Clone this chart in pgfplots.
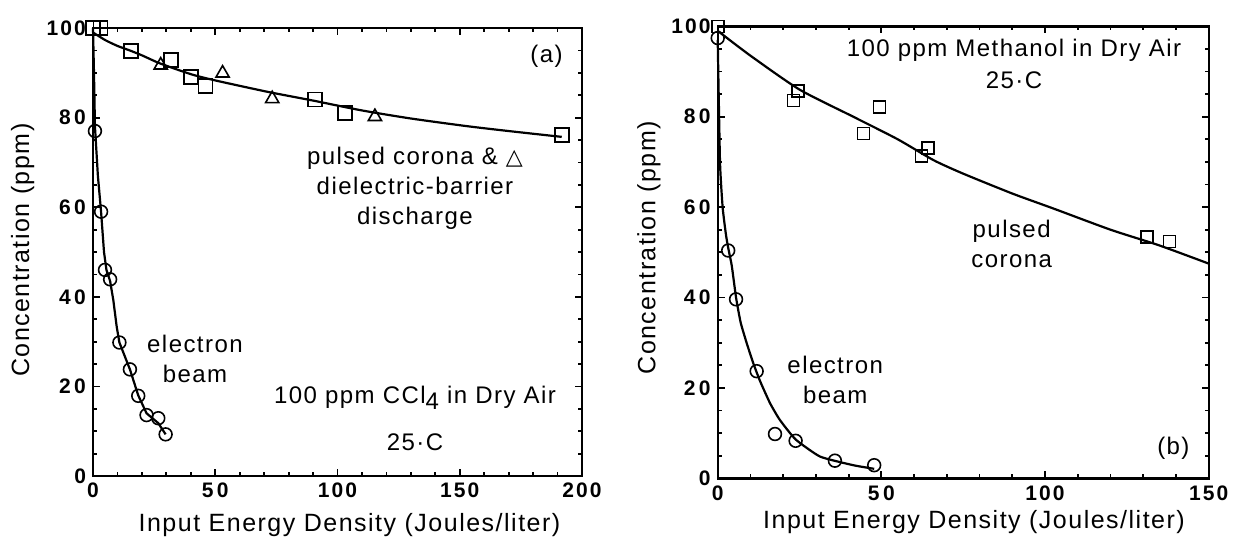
\documentclass[border=0pt]{standalone}
\usepackage{fontspec}
\setmainfont{Liberation Sans}
\newfontfamily\lbl[LetterSpace=6]{Liberation Sans}
\newfontfamily\tck[LetterSpace=10]{Liberation Sans}
\newfontfamily\dejavu{DejaVu Sans}
\usepackage{pgfplots}
\pgfplotsset{compat=1.18}
\tikzset{ann/.style={font=\fontsize{12}{15}\selectfont\lbl, align=center, inner sep=0pt}}
\pgfplotsset{
  mystyle/.style={
    scale only axis, clip=false,
    axis line style={line width=1.2pt},
    tick align=inside,
    tick style={line width=0.9pt, black},
    major tick length=3.5pt, minor tick length=2pt,
    ymin=0, ymax=100, ytick={0,20,...,100}, minor y tick num=3,
    yticklabels={0,2\,0,4\,0,6\,0,8\,0,100},
    /pgf/number format/assume math mode=true,
    tick label style={font=\fontsize{10.5}{12}\selectfont\tck\bfseries},
    label style={font=\fontsize{12.5}{14}\selectfont\lbl},
  },
  sq/.style={only marks, mark=square, mark size=#1, mark options={line width=0.8pt}},
  ci/.style={only marks, mark=o, mark size=3.2pt, mark options={line width=0.8pt}},
  tr/.style={only marks, mark=triangle, mark size=3.8pt, mark options={line width=0.8pt}},
  fit/.style={no marks, line width=1.1pt, smooth, tension=0.4},
}
\begin{document}
\begin{tikzpicture}[x=1pt,y=1pt]
\useasboundingbox (0,0) rectangle (617,-270);
% ---------- (a) ----------
\begin{axis}[mystyle,
  at={(46.5pt,-238pt)}, anchor=south west,
  width=244.5pt, height=224pt,
  xmin=0, xmax=200, xtick={0,50,...,200}, minor x tick num=4,
  xticklabels={0,5\,0,100,150,200},
  xlabel={Input Energy Density (Joules/liter)},
  ylabel={Concentration (ppm)},
  xlabel style={at={(axis description cs:0.5245,-0.109)}, anchor=center},
  ylabel style={at={(axis description cs:-0.144,0.504)}, anchor=center},
]
\addplot[fit] coordinates {(0,99) (5,97.3) (10,96) (15,95) (20,93.9) (27.4,92.1) (40,89.7) (50,88.3) (71,85.8) (90,83.8) (110,81.6) (130,79.8) (152.8,78.1) (170,77) (191.7,75.7)};
\addplot[no marks, line width=1.1pt] coordinates {(0,100) (0.4,90) (0.8,78) (2,67) (3.3,59) (4.5,50) (5.5,46) (7,43.5) (8.3,39.3) (9.7,33.3) (10.8,29.8) (15.1,23.8) (18.5,18) (21.9,14) (26.7,11.8) (29.7,9.3)};
\addplot[sq=3.5pt] coordinates {(0,100) (3,100) (15.5,94.9) (31.9,92.9) (40,89) (46,87) (90.8,84) (103,81) (191.7,76.1)};
\addplot[tr] coordinates {(27.7,91.7) (53,89.9) (73.3,84.2) (115.3,80.2)};
\addplot[ci] coordinates {(0.8,77) (3.3,59) (4.9,46) (7,43.9) (10.8,29.8) (15.1,23.8) (18.5,17.9) (21.9,13.6) (26.7,12.9) (29.7,9.3)};
\node[ann] at (axis cs:185.5,93.6) {(a)};
\node[ann] at (axis cs:131.7,64.3) {pulsed corona \& {\dejavu\fontsize{11}{11}\selectfont △}\\dielectric-barrier\\discharge};
\node[ann] at (axis cs:41.7,26.1) {electron\\beam};
\node[ann] at (axis cs:131.7,17.4) {100 ppm CCl\raisebox{-0.45ex}{4} in Dry Air};
\node[ann] at (axis cs:131.7,7.6) {25·C};
\end{axis}
% ---------- (b) ----------
\begin{axis}[mystyle,
  at={(358.85pt,-239.15pt)}, anchor=south west,
  width=245.5pt, height=226pt,
  xmin=0, xmax=150, xtick={0,50,100,150}, minor x tick num=4,
  xticklabels={0,5\,0,100,150},
  xlabel={Input Energy Density (Joules/liter)},
  ylabel={Concentration (ppm)},
  xlabel style={at={(axis description cs:0.522,-0.096)}, anchor=center},
  ylabel style={at={(axis description cs:-0.14,0.51)}, anchor=center},
]
\addplot[fit] coordinates {(0,99) (10,93.5) (25,86) (41.4,80) (55,75) (65.9,70.4) (75,67.4) (90,63) (102.5,59.7) (120,55) (135,51.5) (150,47.5)};
\addplot[no marks, line width=1.1pt, smooth, tension=0.3] coordinates {(0,97) (0.7,70) (1.5,60) (2.5,54) (3.2,51) (4.3,47) (5.6,40) (7,34.5) (8.9,29.8) (11,25.2) (13,21.4) (16,16.6) (19,12.9) (23.8,8.6) (31.3,4.8) (41.4,2.9) (47.8,2.1)};
\addplot[sq=3pt] coordinates {(0,100) (24.6,85.7) (23.1,83.6) (49.4,82.2) (44.5,76.3) (62.3,71.3) (64.3,73.1) (131.1,53.4) (138,52.4)};
\addplot[ci] coordinates {(0,97.4) (3.2,50.4) (5.6,39.6) (11.9,23.7) (17.5,9.8) (23.8,8.3) (35.8,3.9) (47.8,2.9)};
\node[ann] at (axis cs:90.5,94.8) {100 ppm Methanol in Dry Air};
\node[ann] at (axis cs:90.5,88.1) {25·C};
\node[ann] at (axis cs:89.8,51.8) {pulsed\\corona};
\node[ann] at (axis cs:35.9,21.85) {electron\\beam};
\node[ann] at (axis cs:139.2,6.6) {(b)};
\end{axis}
\end{tikzpicture}
\end{document}
